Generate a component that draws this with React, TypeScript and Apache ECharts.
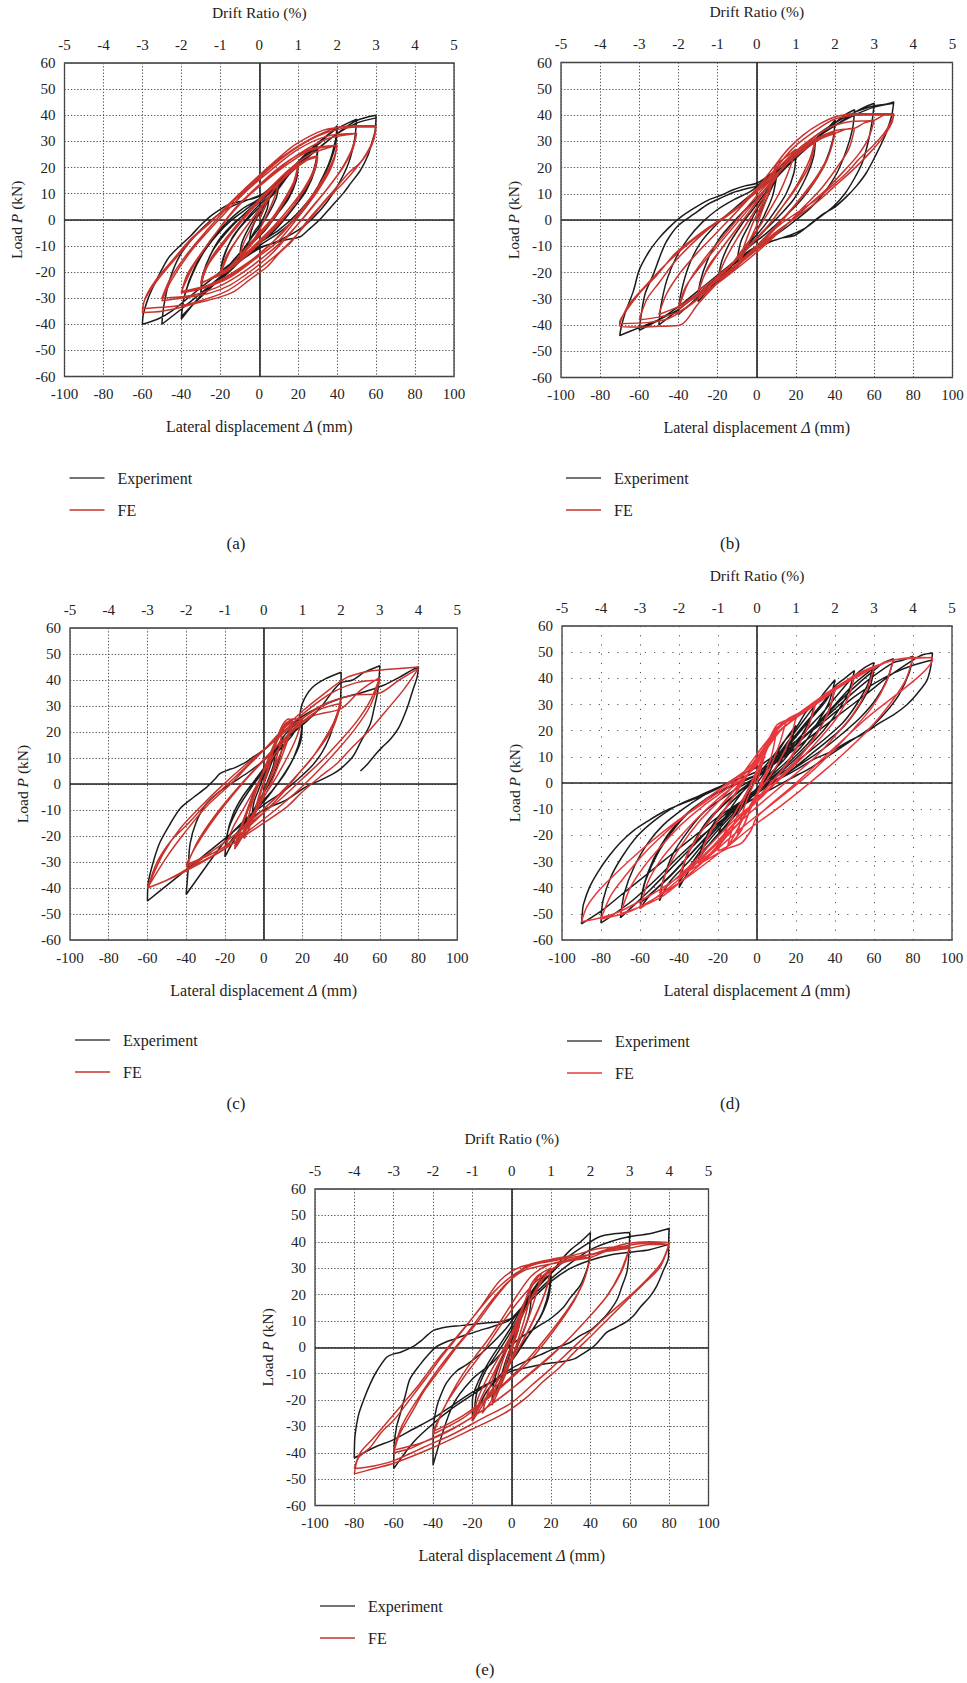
import React, { useEffect, useRef } from "react";
import * as echarts from "echarts";

const FONT = "'Liberation Serif', 'Times New Roman', 'DejaVu Serif', serif";

// axis ranges and tick steps
const dispMin = -100, dispMax = 100, dispStep = 20;
const driftMin = -5, driftMax = 5, driftStep = 1;
const loadMin = -60, loadMax = 60, loadStep = 10;
const panelLabels = ["(a)", "(b)", "(c)", "(d)", "(e)"];
const legendNames = ["Experiment", "FE"];

// ---------- (a) ----------
const expA = [
[0,0],[3,5],[5,8],[4,4],[1,-1],[-2,-4],[-5,-8],[-4,-4],[-1,1],[2,4],[5,8],
[8,12],[10,14],[9,9],[6,4],[2,-1],[-3,-6],[-7,-10],[-10,-14],[-9,-9],[-6,-4],[-2,1],[3,6],[7,10],[10,14],
[15,18],[20,22],[19,16],[16,10],[11,4],[5,-2],[-2,-7],[-9,-12],[-15,-17],[-20,-22],[-19,-16],[-16,-10],[-11,-4],[-5,1],[2,6],[9,11],[15,17],[20,21],
[19,15],[15,8],[9,2],[3,-4],[-5,-10],[-13,-16],[-20,-21],[-18,-14],[-14,-7],[-8,-1],[-1,5],[8,11],[15,17],
[22,23],[30,28],[29,22],[26,15],[21,8],[15,2],[8,-4],[0,-9],[-10,-15],[-20,-22],[-30,-29],[-29,-22],[-26,-15],[-21,-8],[-14,-2],[-6,3],[2,8],[12,15],[22,22],[30,27],
[29,20],[24,11],[17,4],[9,-3],[0,-9],[-10,-16],[-20,-23],[-30,-28],[-29,-21],[-24,-12],[-17,-5],[-8,2],[1,8],[12,16],[24,25],[32,30],[40,36],
[39,30],[36,22],[31,14],[25,6],[18,0],[10,-5],[0,-10],[-10,-16],[-20,-22],[-30,-29],[-40,-38],
[-39,-31],[-35,-22],[-29,-13],[-22,-6],[-14,0],[-5,5],[5,11],[15,18],[25,25],[33,31],[40,35],
[39,28],[34,18],[27,9],[19,2],[10,-4],[0,-9],[-10,-16],[-22,-24],[-32,-31],[-40,-37],
[-38,-28],[-33,-18],[-26,-9],[-18,-2],[-9,4],[0,8],[12,16],[25,26],[38,34],[50,38.5],
[49,31],[46,22],[41,14],[35,7],[28,1],[20,-4],[10,-8],[0,-11],[-12,-17],[-25,-25],[-38,-33],[-50,-40],
[-49,-33],[-46,-23],[-41,-14],[-34,-7],[-26,-1],[-17,4],[-8,7],[2,10],[14,17],[28,26],[40,33],[50,38],
[60,40],[59.5,34],[58,30],[56,25],[52,19],[47,14],[43,10],[37,5],[31,0],[25,-4],[21,-6.5],[15,-7.5],[5,-9.5],[-5,-12],[-15,-17],[-25,-23],[-35,-29],[-45,-35],[-52,-38],[-60,-40],
[-59.5,-36],[-57,-30],[-54,-25],[-50,-19],[-46,-14],[-40,-9.5],[-35,-6],[-30,-2],[-25,1.4],[-20,4],[-15,6],[-8,7.3],[0,9],[10,15],[20,21],[30,27],[40,33],[50,37],[60,39]
];
const feA = [
[0,0],[4,7],[8,12],[10,14],[8,9],[4,2],[0,-4],[-5,-10],[-10,-14],[-8,-9],[-4,-3],[0,3],[5,9],[10,14],
[14,17],[20,21],[18,15],[13,8],[7,1],[0,-5],[-8,-12],[-14,-17],[-20,-21],[-17,-14],[-11,-7],[-5,-1],[1,5],[7,11],[13,16],[20,20.5],
[18,14],[13,7],[7,0],[0,-6],[-8,-13],[-14,-18],[-20,-20],[-16,-13],[-10,-6],[-4,0],[2,6],[8,12],[14,17],[20,21],
[17,13],[11,5],[5,-1],[-2,-7],[-9,-14],[-15,-19],[-20,-21],[-15,-12],[-9,-5],[-3,1],[3,7],[9,13],[15,18],[20,20.5],
[25,23],[30,24.5],[28,19],[23,12],[16,5],[8,-2],[0,-8],[-10,-15],[-20,-21],[-30,-24],
[-28,-19],[-23,-13],[-15,-6],[-6,2],[4,10],[14,17],[22,22],[30,24],
[28,18],[22,10],[14,2],[5,-5],[-5,-12],[-15,-18],[-24,-22],[-30,-24.5],
[-26,-17],[-18,-9],[-8,1],[3,10],[14,18],[24,23],[30,24.5],
[27,17],[20,8],[12,0],[3,-7],[-7,-14],[-17,-20],[-26,-23],[-30,-24],[-25,-15],[-17,-7],[-7,2],[4,11],[15,19],[26,25],[33,27],[40,28.5],
[38,23],[33,16],[25,7],[15,-2],[5,-10],[-7,-17],[-20,-23],[-32,-26.5],[-40,-28],
[-37,-21],[-30,-13],[-20,-3],[-10,6],[2,14],[14,21],[26,26.5],[40,28.5],
[38,22],[32,14],[22,4],[12,-5],[0,-13],[-12,-20],[-26,-25],[-40,-27.5],
[-34,-18],[-25,-8],[-14,3],[-2,12],[12,21],[26,27],[40,28.5],
[37,20],[30,11],[20,1],[10,-8],[-2,-15],[-15,-22],[-28,-26],[-40,-28],
[-36,-20],[-28,-11],[-18,-1],[-6,9],[6,17],[20,25],[35,31],[50,33],
[48,27],[43,20],[35,12],[25,3],[15,-6],[5,-14],[-5,-20],[-15,-25],[-25,-28],[-35,-29.5],[-50,-31],
[-45,-23],[-35,-12],[-22,-1],[-8,10],[6,19],[20,27],[35,32],[50,33],
[47,26],[41,18],[33,10],[23,1],[12,-8],[1,-15],[-10,-21],[-22,-26],[-35,-29],[-50,-30],
[-46,-23],[-38,-14],[-28,-5],[-16,5],[-4,14],[10,23],[24,30],[40,35.3],[50,36],[60,36],
[59,32],[57,28],[52,22],[46,18],[38,11],[31,5],[24,-1],[17,-8],[10,-13],[4,-18],[-5,-23],[-13,-27.5],[-22,-30],[-30,-31.5],[-40,-33.5],[-50,-35],[-60,-35.5],
[-59,-31],[-55,-26],[-50,-21],[-42,-14],[-34,-7],[-25,-1],[-17,5],[-8,11.5],[0,17],[9,23],[17,28],[26,32],[33,34.3],[40,35.3],[50,36],[60,36],
[59,31],[56,26],[50,20],[43,14],[35,8],[27,1],[19,-6],[11,-12],[3,-17],[-6,-22],[-16,-27],[-26,-30],[-38,-32.5],[-50,-33.5],[-60,-34],
[-58,-29],[-52,-22],[-44,-15],[-36,-8],[-27,-2],[-18,4],[-9,10],[0,16],[10,22.5],[20,28],[30,32],[40,34.5],[50,35.5],[60,35.5]
];

// ---------- (b) ----------
const expB = [
[0,0],[5,8],[10,16],[8,9],[4,2],[0,-4],[-5,-10],[-10,-15],[-8,-8],[-4,-2],[0,4],[5,10],[10,16],
[15,21],[20,25],[19,18],[15,10],[9,3],[3,-3],[-5,-10],[-12,-17],[-20,-24],[-18,-16],[-14,-9],[-8,-2],[-2,4],[5,11],[12,18],[20,24],
[25,28],[30,31],[29,24],[25,16],[19,8],[12,2],[4,-4],[-5,-11],[-15,-19],[-25,-27],[-30,-31],[-29,-24],[-25,-15],[-19,-7],[-11,0],[-3,6],[5,12],[15,20],[25,27],[30,30],
[35,34],[40,38],[39,31],[35,22],[29,14],[22,7],[14,1],[5,-5],[-5,-11],[-17,-20],[-28,-28],[-40,-36],[-39,-29],[-35,-18],[-29,-9],[-21,-2],[-12,4],[-4,9],[5,14],[17,22],[30,31],[40,37],
[45,40],[50,42],[49,35],[46,27],[41,18],[35,11],[28,5],[20,0],[11,-5],[0,-10],[-12,-17],[-25,-25],[-38,-33],[-50,-40],[-49,-33],[-46,-23],[-41,-14],[-35,-7],[-28,-1],[-20,4],[-11,8],[-3,11],[6,16],[18,23],[32,32],[44,38],[50,41],
[55,43],[60,44.5],[59,38],[57,30],[54,22],[50,16],[45,10],[39,5],[32,1],[25,-3],[18,-5.5],[10,-7.5],[0,-10],[-10,-15],[-20,-21],[-30,-27],[-40,-33],[-50,-38],[-60,-42],
[-59,-36],[-57,-28],[-53,-21],[-49,-13],[-46,-8],[-40,-2],[-32,2.3],[-25,6],[-19,8.2],[-12,10.5],[-5,12],[0,13],[10,19],[20,26],[30,32],[40,37],[50,41],[60,43.5],
[65,44],[70,45],[69,40],[67,35],[65.5,32],[61,25],[56,18],[51,13],[46,9],[40,5],[34,2.3],[29,-0.5],[25,-3],[19,-6],[12,-7],[5,-9],[0,-11],[-10,-16],[-20,-22],[-30,-28],[-40,-34],[-50,-38],[-60,-41],[-70,-44],
[-69,-40],[-67,-35],[-63,-27],[-60,-19],[-55,-12],[-50,-7],[-45,-3],[-39,1],[-32,4.5],[-25,7.5],[-18,9.5],[-12,11.5],[-6,13],[0,14],[8,18],[18,24],[30,31],[40,36],[50,40],[60,43],[70,44.5]
];
const feB = [
[0,0],[5,10],[10,20],[7,12],[3,4],[0,-2],[-5,-10],[-10,-18],[-7,-11],[-3,-3],[0,2],[5,10],[10,21],
[15,24],[20,27],[17,20],[12,11],[6,3],[0,-4],[-8,-12],[-14,-18],[-20,-22],[-16,-15],[-10,-7],[-4,0],[2,7],[9,15],[15,22],[20,26],
[25,29],[30,31],[27,23],[21,14],[14,6],[6,-2],[-3,-9],[-12,-16],[-21,-22],[-30,-27],[-26,-20],[-19,-12],[-11,-4],[-3,4],[6,13],[15,21],[23,27],[30,30.5],
[27,21],[20,12],[12,4],[4,-4],[-5,-11],[-14,-18],[-23,-24],[-30,-28],[-25,-18],[-17,-10],[-9,-2],[-1,6],[8,15],[17,23],[25,28],[30,31],
[35,32],[40,33],[37,25],[31,17],[23,9],[14,1],[5,-6],[-6,-14],[-17,-21],[-28,-27],[-40,-33],[-36,-25],[-28,-17],[-19,-9],[-10,-1],[-1,7],[9,16],[19,24],[29,30],[40,33.5],
[36,23],[29,14],[20,6],[11,-2],[2,-9],[-9,-16],[-20,-23],[-31,-29],[-40,-34],[-35,-24],[-27,-15],[-18,-7],[-8,2],[2,11],[12,19],[23,26],[33,31],[40,33],
[45,34.5],[50,35],[47,27],[41,20],[33,12],[24,5],[15,-2],[5,-9],[-6,-16],[-18,-23],[-30,-29],[-40,-33],[-50,-36],[-46,-28],[-39,-20],[-31,-13],[-22,-6],[-13,1],[-3,9],[7,17],[17,24],[28,30],[40,34],[50,35],
[55,37],[60,38],[57,31],[52,25],[45,19],[36,12],[27,6],[18,0],[9,-5],[0,-11],[-10,-17],[-20,-24],[-30,-30],[-40,-35],[-50,-37],[-60,-38],[-56,-30],[-50,-24],[-42,-16],[-33,-9],[-24,-3],[-15,2],[-6,7],[2,12],[10,19],[18,25],[28,31],[38,35.5],[48,37.5],[60,38],
[65,40],[70,40.5],[69,38],[65,33],[59,28],[52,23],[46,18],[37,12],[29,7],[20,2.5],[12,-1.7],[4,-7],[-5,-13.5],[-13,-19],[-22,-25.5],[-30,-32],[-39,-40],[-50,-40.5],[-60,-40.8],[-70,-40.5],
[-70,-39],[-68,-36],[-60,-28],[-51,-21],[-42,-13],[-34,-8],[-25,-3],[-17,1],[-8,6],[0,12],[8.5,20],[16,27],[24,32.5],[32,36.5],[41,39.5],[50,40.5],[70,40.5],
[69,37],[64,31],[57,25],[49,19],[40,13],[31,7],[22,2],[13,-3],[4,-9],[-6,-15],[-15,-21],[-25,-27],[-35,-33],[-45,-37.5],[-55,-39],[-70,-39.5],
[-66,-33],[-58,-26],[-48,-18],[-38,-11],[-28,-5],[-18,0],[-9,5],[0,11],[9,19],[18,27],[28,33],[40,38.5],[55,40],[70,40]
];

// ---------- (c) ----------
const expC = [
[0,0],[3,6],[6,12],[5,7],[2,1],[0,-3],[-3,-8],[-6,-12],[-5,-7],[-2,-1],[0,3],[4,9],[8,15],[10,18],
[9,12],[6,5],[2,-1],[-3,-7],[-7,-13],[-10,-18],[-9,-12],[-6,-5],[-2,1],[2,7],[6,13],[10,18],
[15,22],[20,25],[19,18],[16,11],[11,4],[5,-2],[-2,-8],[-8,-14],[-14,-20],[-20,-28],[-19,-20],[-16,-12],[-11,-5],[-5,1],[1,7],[7,13],[13,19],[20,24],
[19,16],[14,8],[8,1],[1,-6],[-7,-12],[-14,-19],[-20,-25],[-18,-17],[-13,-9],[-7,-2],[0,5],[8,13],[15,19],
[18,24],[20,31],[25,37],[32,40.5],[40,43],[39.5,30],[37,25],[34,18],[30,12],[25,7],[18,2],[10,-3],[0,-8],[-10,-14],[-20,-22],[-30,-32],[-40,-42.5],
[-39,-33],[-38,-23],[-35,-15],[-30,-8],[-23,-3],[-15,1],[-7,5],[0,9],[7,14],[14,19],[22,24],[30,30],[36,36],[40,39],
[46,40],[52,43],[60,45.5],[59,36],[57,29],[55,23],[50,16],[46,10.5],[40,6],[36,4],[28,1],[22,-1],[12,-6],[0,-10],[-10,-15],[-20,-21],[-30,-27],[-40,-33],[-50,-39],[-60,-45],
[-59.6,-38],[-57,-30],[-53.6,-22.5],[-48,-15],[-43,-9.3],[-36,-5],[-29.5,-1.3],[-25,2],[-22.6,4],[-18,5.5],[-15.7,6],[-10,8],[-5,10.6],[0,13],[6,17],[12,21],[20,26],[30,30],[40,33],[50,35],[62,38],[70,41],[77,44],[80,45],
[79.2,41],[77,36],[74,29],[70,22],[65.4,17.2],[61,14],[58.5,12],[54,8],[50,5]
];
const feC = [
[0,0],[3,8],[5,13],[3,7],[0,0],[-3,-7],[-5,-12],[-3,-6],[0,1],[3,8],[5,13],
[8,19],[10,22],[8,14],[5,6],[1,-2],[-3,-9],[-7,-16],[-10,-21],[-8,-13],[-5,-5],[-1,3],[3,11],[7,18],[10,23],
[13,25],[15,24],[12,16],[8,8],[3,-1],[-2,-8],[-7,-15],[-11,-20],[-15,-25],[-12,-17],[-8,-9],[-3,0],[2,9],[7,17],[11,23],[15,25],
[12,17],[7,9],[2,0],[-3,-8],[-8,-15],[-15,-24],[-11,-15],[-6,-6],[-1,3],[5,13],[10,21],[15,24],
[13,20],[9,12],[4,3],[-1,-5],[-6,-13],[-10,-19],[-14,-24],[-11,-16],[-7,-8],[-2,1],[3,10],[8,18],[12,23],[15,25],
[20,25],[17,18],[12,10],[6,2],[0,-5],[-6,-12],[-12,-18],[-20,-25],[-16,-17],[-10,-9],[-4,-1],[2,7],[9,15],[15,21],[20,25],
[25,28],[32,31],[40,33],[37,25],[32,18],[25,10],[17,3],[8,-5],[0,-11],[-10,-18],[-20,-24],[-30,-28],[-40,-31],[-35,-24],[-28,-16],[-20,-8],[-10,1],[0,9],[10,17],[20,24],[30,29],[40,31],
[36,22],[28,13],[18,4],[8,-4],[-2,-11],[-14,-19],[-27,-26],[-40,-32],[-34,-22],[-25,-12],[-14,-2],[-3,7],[10,17],[25,26],[40,29],
[50,36],[60,41],[55,32],[48,24],[40,17],[30,9],[20,2],[10,-5],[0,-11],[-12,-18],[-25,-25],[-38,-32],[-50,-37],[-60,-40],
[-55,-30],[-48,-22],[-40,-16],[-30,-8],[-20,-1],[-10,6],[0,13],[10,20],[22,28],[35,35],[48,39],[60,40],
[55,30],[47,21],[38,13],[28,5],[17,-3],[6,-10],[-6,-17],[-20,-25],[-34,-31],[-47,-36],[-60,-40],
[-52,-27],[-43,-17],[-33,-9],[-22,-1],[-10,7],[3,15],[16,23],[30,30],[45,34],[60,35],
[70,40],[80,44.5],[72,36],[63.5,28.4],[55,21],[46,14.3],[38,8],[29,2.7],[20,-3],[12,-8.8],[0,-15],[-12,-21],[-25,-27],[-40,-33],[-50,-37],[-60,-40],
[-50,-28],[-40,-18],[-30,-9],[-17,0],[-8,7],[0,13],[10,21],[20,28],[30,34],[43,41],[55,43.5],[63,44],[80,45]
];

// ---------- (d) ----------
const expD = [
[0,0],[5,5],[10,10],[7,5],[3,0],[0,-3],[-5,-7],[-10,-12],[-7,-7],[-3,-2],[0,2],[5,6],[10,11],
[15,17],[20,22],[17,15],[12,8],[6,2],[0,-3],[-6,-8],[-13,-14],[-20,-20],[-17,-14],[-12,-8],[-6,-2],[0,3],[7,9],[14,16],[20,21],
[25,27],[30,31],[27,24],[21,16],[14,9],[6,3],[0,-2],[-8,-9],[-17,-17],[-24,-23],[-30,-29],[-27,-22],[-21,-14],[-14,-8],[-7,-3],[0,2],[8,8],[16,16],[24,24],[30,30],
[35,35],[40,39.5],[37,31],[31,23],[24,15],[15,8],[6,2],[0,-2],[-10,-11],[-20,-20],[-30,-28],[-40,-40],[-37,-30],[-32,-22],[-25,-14],[-17,-8],[-9,-3],[-2,1],[6,6],[15,14],[25,23],[33,30],[40,37],
[38,30],[33,22],[26,15],[18,9],[9,3],[0,-2],[-10,-10],[-20,-18],[-30,-27],[-40,-38],[-36,-28],[-30,-20],[-23,-13],[-15,-7],[-7,-2],[0,2],[8,7],[17,15],[27,24],[35,31],[40,37],
[45,40],[50,43],[47,35],[41,27],[34,20],[25,13],[15,6],[5,0],[-5,-5],[-15,-13],[-25,-21],[-35,-30],[-45,-38],[-50,-45],[-48,-37],[-43,-27],[-35,-18],[-27,-11],[-18,-6],[-10,-2],[-3,1],[5,5],[15,12],[25,20],[35,28],[45,37],[50,41],
[55,44],[60,46],[57,38],[51,30],[44,23],[35,17],[25,11],[15,5],[5,0],[-5,-5],[-15,-12],[-25,-20],[-35,-28],[-45,-36],[-55,-43],[-60,-48],[-58,-39],[-53,-29],[-46,-20],[-38,-13],[-28,-7],[-18,-3],[-9,0],[0,3],[10,8],[20,15],[30,22],[40,30],[50,38],[60,44],
[58,37],[52,29],[45,22],[36,16],[26,10],[16,4],[6,-1],[-4,-6],[-14,-12],[-24,-19],[-34,-27],[-44,-35],[-54,-42],[-60,-46],[-57,-37],[-51,-27],[-44,-19],[-36,-12],[-26,-6],[-16,-2],[-7,1],[2,4],[12,9],[22,16],[32,23],[42,31],[52,38],[60,43],
[65,46],[70,47.5],[67,40],[61,32],[53,25],[44,19],[34,13],[24,8],[14,3],[4,-1],[-6,-6],[-18,-13],[-30,-22],[-42,-31],[-55,-41],[-65,-48],[-70,-51.5],[-68,-42],[-63,-32],[-56,-23],[-48,-16],[-38,-10],[-28,-5],[-18,-1],[-8,2],[2,5],[14,11],[26,19],[38,27],[50,35],[60,41],[70,46],
[75,47],[80,48.5],[78,42],[73,34],[66,27],[58,21],[48,16],[38,11],[28,6],[18,2],[8,-2],[-4,-7],[-16,-13],[-28,-20],[-40,-28],[-52,-37],[-64,-45],[-75,-51],[-80,-53.5],[-79,-45],[-75,-36],[-69,-28],[-61,-20],[-52,-14],[-42,-9],[-30,-5],[-18,-1],[-8,2],[2,5],[14,10],[28,18],[42,26],[56,34],[68,41],[80,47],
[85,49],[90,49.7],[89,44],[87,39],[82,34],[77,30],[70,26],[63,23],[55,19],[46,15.5],[38,12],[29,9],[20,5],[10,1],[0,-3],[-10,-8],[-20,-13],[-30,-19],[-40,-25],[-50,-31],[-60,-37],[-70,-43],[-80,-49],[-90,-53.8],
[-89.5,-49],[-89,-46.4],[-86,-40],[-82,-34.5],[-76,-28],[-70,-22.7],[-63,-18],[-56.5,-14.8],[-48,-11],[-39.4,-8.2],[-30,-5.5],[-22.3,-2.9],[-15,0],[-8.6,3],[0,6],[10,11],[20,16],[30,21],[40,27],[50,33],[60,38],[70,42],[80,45],[90,47]
];
const feD = [
[0,0],[3,8],[6,15],[10,20],[8,12],[5,5],[2,0],[0,-4],[-3,-9],[-6,-15],[-10,-20],[-8,-13],[-5,-6],[-2,-1],[0,3],[3,9],[7,16],[10,20],
[13,23],[15,24],[12,16],[8,8],[4,2],[0,-5],[-4,-11],[-8,-18],[-12,-22],[-15,-24],[-12,-16],[-8,-9],[-4,-2],[0,4],[4,11],[8,18],[12,22],[15,24],
[20,25],[17,17],[12,9],[6,2],[0,-4],[-6,-12],[-11,-19],[-15,-24],[-20,-26],[-16,-18],[-11,-11],[-5,-3],[0,5],[5,13],[10,20],[15,24],[20,26],
[25,28],[30,31],[27,23],[21,14],[14,6],[7,0],[0,-6],[-8,-14],[-15,-20],[-22,-26],[-30,-31],[-26,-22],[-20,-14],[-13,-6],[-6,2],[0,8],[6,16],[12,22],[20,26],[30,30],
[26,21],[19,12],[12,4],[5,-2],[-2,-8],[-10,-16],[-18,-22],[-24,-27],[-30,-30],[-25,-20],[-18,-12],[-11,-4],[-4,4],[2,11],[8,18],[15,24],[22,27],[30,31],
[35,34],[40,36],[37,28],[31,19],[23,11],[14,4],[5,-3],[-5,-10],[-15,-18],[-25,-26],[-40,-37],[-36,-28],[-29,-19],[-21,-11],[-13,-4],[-5,3],[3,11],[10,19],[20,25],[30,30],[40,36],
[36,26],[29,17],[21,9],[12,2],[3,-5],[-7,-12],[-17,-20],[-28,-28],[-40,-36],[-35,-26],[-27,-17],[-19,-9],[-11,-2],[-3,5],[5,13],[12,20],[22,26],[32,31],[40,35.5],
[45,38],[50,41],[47,33],[40,24],[31,16],[21,8],[11,1],[1,-6],[-10,-13],[-22,-22],[-35,-32],[-50,-42],[-46,-33],[-39,-24],[-30,-15],[-21,-8],[-12,-1],[-4,7],[4,15],[12,22],[22,27],[35,34],[50,41],
[55,43],[60,44],[56,35],[49,26],[40,18],[30,10],[19,3],[8,-4],[-3,-11],[-16,-20],[-30,-30],[-45,-40],[-60,-48],[-56,-38],[-49,-29],[-40,-21],[-30,-13],[-20,-6],[-10,0],[0,7],[6,16],[13,23],[22,27],[35,34],[48,40],[60,44],
[65,46],[70,47],[66,38],[59,29],[50,21],[40,13],[29,5],[18,-2],[6,-9],[-6,-16],[-20,-25],[-35,-35],[-50,-44],[-70,-50],[-65,-40],[-58,-32],[-49,-24],[-39,-16],[-28,-9],[-17,-3],[-7,3],[2,10],[8,18],[15,23.5],[25,28],[38,35],[52,42],[70,47],
[75,47.5],[80,48],[76,39],[68,30],[58,21],[47,13],[35,5],[22,-3],[10,-10],[-3,-17],[-18,-26],[-34,-35],[-50,-43],[-65,-49],[-80,-52],[-75,-43],[-67,-35],[-58,-27],[-47,-19],[-36,-12],[-24,-5],[-13,1],[-4,6],[4,14],[10,21],[17,24],[28,29],[42,37],[58,44],[80,48],
[85,48],[90,47.5],[55,24],[20,0],[0,-13],[-3,-18],[-8,-23],[-15,-25],[-25,-29],[-40,-36],[-55,-43],[-70,-49],[-80,-51.5],[-90,-53],
[-87,-47],[-81,-41],[-73,-35],[-63,-28],[-52,-21],[-40,-14],[-28,-8],[-17,-2],[-7,4],[0,9],[5,15],[10,22],[15,24],[20,25],[30,30],[40,36],[50,40],[60,44],[70,47],[90,48]
];

// ---------- (e) ----------
const expE = [
[0,0],[2,6],[5,12],[3,6],[0,0],[-2,-5],[-5,-10],[-3,-5],[0,1],[3,7],[5,12],
[8,17],[10,20],[9,13],[6,6],[2,-1],[-2,-7],[-6,-13],[-10,-20],[-9,-13],[-6,-6],[-2,0],[2,6],[6,13],[10,20],
[15,26],[20,30],[19,22],[16,14],[11,7],[5,1],[0,-5],[-6,-11],[-13,-17],[-20,-28],[-20,-20],[-17,-13],[-12,-6],[-6,1],[0,8],[5,15],[10,21],[15,26],[20,29],
[19,20],[15,12],[9,5],[3,-2],[-4,-9],[-12,-16],[-19,-26],[-18,-18],[-14,-10],[-8,-3],[-2,4],[4,12],[10,20],[15,25],[20,28],
[25,33],[30,37],[35,40],[40,43.5],[39.5,36],[39,31.6],[37,27],[34.8,23.4],[30,19],[26.3,15.2],[20,11],[14.4,8.4],[6,4.4],[0,1],[-5,-2],[-10,-6],[-20,-12],[-30,-22],[-40,-44.7],
[-39.9,-31],[-38.2,-22.9],[-36,-18],[-33,-13.3],[-28,-9],[-22.9,-6.6],[-15,-2],[-8,3],[-3,7],[0,10],[5,15],[10,20],[20,28],[30,35],[40,40],
[45,42],[52,43],[60,43.5],[59.5,35],[58.6,28.8],[56,23],[53.5,18],[49,13],[45,9.8],[40,6.5],[34.8,4.4],[30,2],[24.6,0.3],[20,-1],[14.4,-2.9],[8,-5],[0,-8],[-10,-13],[-20,-18],[-30,-23],[-40,-29],[-50,-36],[-60,-46],
[-59.7,-36.5],[-58.5,-30],[-56.8,-25.6],[-54,-18],[-51.7,-12],[-46.6,-6.6],[-42,-2.5],[-38.1,0.3],[-34,1.8],[-29.7,3],[-22,5],[-16.1,6.4],[-10,7.8],[-2.5,9.7],[0,11],[5,15],[10,19],[20,26],[30,32],[40,37],[50,40],[60,42],
[70,43],[80,45],[79.7,38],[79.7,34.3],[77,29],[73.8,23.4],[70,19],[65.3,15.2],[62,12],[58.6,9.8],[53,7.5],[48.4,5.7],[45,3],[41.6,0.3],[36,-2.5],[31.4,-4.5],[25,-5.5],[17.9,-6.2],[12,-7],[6,-8],[0,-9],[-10,-13],[-20,-17],[-30,-22],[-40,-27],[-50,-31],[-60,-35],[-70,-38],[-80,-42],
[-79.7,-33.8],[-78,-26],[-75.4,-20.2],[-72,-14],[-68.7,-9.2],[-63.6,-3.8],[-60,-2.5],[-56.8,-2],[-50,0.3],[-46,2.5],[-43.2,4.4],[-39.8,6.4],[-33,7.7],[-26,8.2],[-19.5,8.7],[-12,9.3],[-6,9.7],[0,11],[5,14],[10,18],[20,25],[30,30],[40,33],[50,35],[60,36],[70,37],[80,39]
];
const feE = [
[0,0],[2,6],[5,13],[3,6],[0,-1],[-2,-7],[-5,-13],[-3,-6],[0,1],[3,8],[5,13],
[8,20],[10,24],[8,15],[5,7],[1,-2],[-3,-10],[-7,-17],[-10,-22],[-8,-14],[-5,-6],[-1,2],[3,10],[7,18],[10,24],
[13,27],[15,28],[12,19],[8,10],[3,1],[-2,-8],[-7,-16],[-11,-21],[-15,-25],[-12,-17],[-8,-9],[-3,0],[2,9],[7,18],[11,24],[15,28],
[20,30],[17,21],[12,12],[6,3],[0,-5],[-6,-13],[-13,-20],[-20,-28],[-16,-20],[-10,-11],[-4,-2],[2,7],[8,16],[14,24],[20,30],
[18,23],[14,15],[9,7],[3,-1],[-3,-8],[-10,-16],[-16,-22],[-20,-27],[-17,-19],[-12,-11],[-6,-3],[0,5],[6,13],[12,21],[17,27],[20,29],
[28,33],[40,34],[37,26],[32,18],[25,10],[17,2],[8,-6],[-2,-13],[-13,-20],[-25,-27],[-40,-33],
[-35,-24],[-28,-14],[-20,-5],[-11,4],[-3,13],[3,20],[10,27],[18,31],[28,33],[40,34],
[36,24],[29,15],[20,6],[10,-3],[0,-11],[-12,-19],[-25,-26],[-40,-32],[-33,-21],[-24,-11],[-14,-1],[-5,9],[4,18],[14,26],[26,32],[40,34],
[50,37],[60,38],[55,28],[48,19],[40,12],[30,4],[20,-3],[9,-10],[-2,-17],[-15,-24],[-28,-30],[-42,-35],[-52,-38.5],[-60,-40],
[-57,-33],[-51,-25],[-44,-16],[-36,-8],[-28,0],[-18,9],[-8,19],[0,26],[8,31],[18,33],[32,35],[45,37.5],[60,38],
[56,29],[49,20],[40,12],[30,4],[19,-4],[8,-11],[-4,-18],[-17,-25],[-30,-31],[-45,-36],[-60,-39],
[-56,-30],[-49,-21],[-41,-12],[-32,-3],[-22,6],[-12,16],[-3,24],[6,29],[16,31],[30,33],[45,36],[60,37.5],
[70,39],[80,39],[75.4,30.4],[67,24],[58.5,17.8],[50,11.5],[41.6,5.2],[33,-1],[24.6,-7.5],[16,-13],[7.7,-18.9],[-4.1,-25.2],[-20,-31],[-40,-38],[-60,-44],[-70,-46],[-80,-48],
[-78,-42],[-72,-38],[-66,-32],[-60,-27.7],[-52,-20],[-43.1,-11.3],[-35,-3],[-26.2,5.2],[-16,15],[-5.8,25.4],[4.4,30.4],[17.9,32.3],[30,34],[41.6,35.5],[50,37.5],[58.5,39.3],[70,40],[80,39.5],
[76,32],[69,26],[60,19.5],[50,13],[40,6],[30,-1],[20,-8],[10,-14.5],[0,-21],[-15,-27],[-30,-33],[-45,-38],[-60,-43],[-70,-45],[-80,-46],
[-77,-40],[-71,-35],[-64,-29],[-56,-22],[-47,-14],[-38,-5],[-29,3],[-19,12],[-9,21],[0,27],[10,31],[25,33.5],[40,35],[55,38],[70,39.5],[80,39]
];

const expData = [expA, expB, expC, expD, expE];
const feData = [feA, feB, feC, feD, feE];

// layout (pixels)
const layout = [
  { grid: { left: 64.5, top: 63, width: 389.5, height: 313.5 }, drift: true, red: "#c9332e", dash: [1.3, 1.9], legend: { left: 64.5, top: 465 }, label: [236, 543] },
  { grid: { left: 561, top: 62.5, width: 391.5, height: 315 }, drift: true, red: "#c9332e", dash: [1.3, 1.9], legend: { left: 561, top: 465 }, label: [730, 543] },
  { grid: { left: 70, top: 628, width: 387.3, height: 312 }, drift: false, red: "#c9332e", dash: [1.3, 1.9], legend: { left: 70, top: 1027 }, label: [236, 1103] },
  { grid: { left: 562, top: 626, width: 390, height: 314 }, drift: true, red: "#e8383d", dash: [1.2, 8], legend: { left: 562, top: 1028 }, label: [730, 1103] },
  { grid: { left: 315, top: 1189, width: 393.5, height: 316.5 }, drift: true, red: "#c9332e", dash: [1.3, 1.9], legend: { left: 315, top: 1593 }, label: [485, 1669] },
];

const BLACK = "#1c1c1c";
const TEXT = "#222";

function buildOption() {
  const grids = layout.map((l) => ({
    ...l.grid,
    show: true,
    borderColor: "#3a3a3a",
    borderWidth: 1.3,
    backgroundColor: "transparent",
  }));
  const bottomAxes = layout.map((l, i) => ({
    gridIndex: i,
    type: "value",
    position: "bottom",
    min: dispMin,
    max: dispMax,
    interval: dispStep,
    axisLine: { show: false, onZero: false },
    axisTick: { show: false },
    axisLabel: { fontSize: 15, color: TEXT, margin: 10, fontFamily: FONT },
    splitLine: { show: true, lineStyle: { color: "#555", width: 1, type: l.dash } },
    name: "Lateral displacement {i|Δ} (mm)",
    nameLocation: "middle",
    nameGap: 42,
    nameTextStyle: {
      fontSize: 16, color: TEXT, fontFamily: FONT,
      rich: { i: { fontStyle: "italic", fontSize: 16, color: TEXT, fontFamily: FONT } },
    },
  }));
  const topAxes = layout.map((l, i) => ({
    gridIndex: i,
    type: "value",
    position: "top",
    min: driftMin,
    max: driftMax,
    interval: driftStep,
    axisLine: { show: false, onZero: false },
    axisTick: { show: false },
    splitLine: { show: false },
    axisLabel: { fontSize: 15, color: TEXT, margin: 11, fontFamily: FONT },
    name: l.drift ? "Drift Ratio (%)" : "",
    nameLocation: "middle",
    nameGap: 43,
    nameTextStyle: { fontSize: 15.5, color: TEXT, fontFamily: FONT },
  }));
  const yAxes = layout.map((l, i) => ({
    gridIndex: i,
    type: "value",
    min: loadMin,
    max: loadMax,
    interval: loadStep,
    axisLine: { show: false, onZero: false },
    axisTick: { show: false },
    axisLabel: { fontSize: 15, color: TEXT, margin: 9, fontFamily: FONT },
    splitLine: { show: true, lineStyle: { color: "#555", width: 1, type: l.dash } },
    name: "Load {i|P} (kN)",
    nameLocation: "middle",
    nameGap: 40,
    nameTextStyle: {
      fontSize: 15.5, color: TEXT, fontFamily: FONT,
      rich: { i: { fontStyle: "italic", fontSize: 15.5, color: TEXT, fontFamily: FONT } },
    },
  }));
  const series: any[] = [];
  layout.forEach((l, i) => {
    series.push({
      name: legendNames[0],
      type: "line",
      xAxisIndex: i,
      yAxisIndex: i,
      data: expData[i],
      showSymbol: false,
      symbol: "none",
      smooth: 0.3,
      color: BLACK,
      lineStyle: { color: BLACK, width: 1.5 },
      itemStyle: { color: BLACK },
      z: 3,
      markLine: {
        silent: true,
        symbol: ["none", "none"],
        label: { show: false },
        lineStyle: { color: "#222", width: 1.6, type: "solid" },
        data: [{ xAxis: 0 }, { yAxis: 0 }],
        z: 2,
      },
    });
    series.push({
      name: legendNames[1],
      type: "line",
      xAxisIndex: i,
      yAxisIndex: i,
      data: feData[i],
      showSymbol: false,
      symbol: "none",
      smooth: 0.3,
      color: l.red,
      lineStyle: { color: l.red, width: 1.5 },
      itemStyle: { color: l.red },
      z: 4,
    });
  });
  const legends = layout.map((l) => ({
    orient: "vertical",
    left: l.legend.left,
    top: l.legend.top,
    icon: "rect",
    itemWidth: 35,
    itemHeight: 1.6,
    itemGap: 16,
    selectedMode: false,
    textStyle: { fontFamily: FONT, fontSize: 16, color: TEXT, padding: [0, 0, 0, 8] },
    data: [
      { name: legendNames[0], itemStyle: { color: "#444" } },
      { name: legendNames[1], itemStyle: { color: l.red } },
    ],
  }));
  const graphic = layout.map((l, i) => ({
    type: "text",
    x: l.label[0],
    y: l.label[1],
    style: {
      text: panelLabels[i],
      fill: "#222",
      fontSize: 17,
      fontFamily: FONT,
      align: "center",
      verticalAlign: "middle",
      textAlign: "center",
      textVerticalAlign: "middle",
    },
  }));
  return {
    animation: false,
    backgroundColor: "#ffffff",
    textStyle: { fontFamily: FONT },
    grid: grids,
    xAxis: [...bottomAxes, ...topAxes],
    yAxis: yAxes,
    legend: legends,
    graphic,
    series,
  };
}

export default function App() {
  const ref = useRef<HTMLDivElement>(null);
  useEffect(() => {
    document.body.style.margin = "0";
    if (!ref.current) return;
    const chart = echarts.init(ref.current, null, { renderer: "svg", width: 967, height: 1683 });
    chart.setOption(buildOption() as any);
    return () => chart.dispose();
  }, []);
  return <div ref={ref} style={{ width: 967, height: 1683, background: "#fff" }} />;
}
